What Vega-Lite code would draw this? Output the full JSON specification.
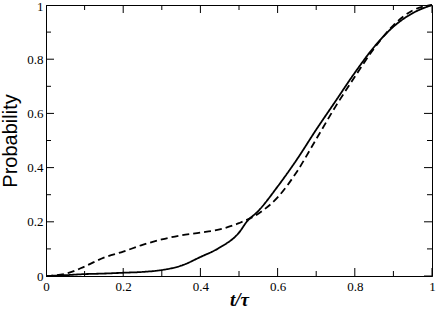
{
  "$schema": "https://vega.github.io/schema/vega-lite/v6.json",
  "width": 386,
  "height": 271,
  "autosize": {"type": "none"},
  "padding": {"left": 46, "top": 5, "right": 4, "bottom": 34},
  "background": "white",
  "config": {"view": {"stroke": "black", "strokeWidth": 1}},
  "datasets": {
    "curves": [
      {"t": 0, "p": 0, "s": "solid"},
      {"t": 0.05, "p": 0.003, "s": "solid"},
      {"t": 0.1, "p": 0.007, "s": "solid"},
      {"t": 0.15, "p": 0.009, "s": "solid"},
      {"t": 0.2, "p": 0.012, "s": "solid"},
      {"t": 0.25, "p": 0.015, "s": "solid"},
      {"t": 0.3, "p": 0.022, "s": "solid"},
      {"t": 0.35, "p": 0.038, "s": "solid"},
      {"t": 0.4, "p": 0.07, "s": "solid"},
      {"t": 0.45, "p": 0.105, "s": "solid"},
      {"t": 0.5, "p": 0.16, "s": "solid"},
      {"t": 0.52, "p": 0.2, "s": "solid"},
      {"t": 0.55, "p": 0.24, "s": "solid"},
      {"t": 0.6, "p": 0.33, "s": "solid"},
      {"t": 0.65, "p": 0.43, "s": "solid"},
      {"t": 0.7, "p": 0.54, "s": "solid"},
      {"t": 0.75, "p": 0.645, "s": "solid"},
      {"t": 0.8, "p": 0.75, "s": "solid"},
      {"t": 0.85, "p": 0.845, "s": "solid"},
      {"t": 0.9, "p": 0.92, "s": "solid"},
      {"t": 0.95, "p": 0.97, "s": "solid"},
      {"t": 1.0, "p": 1.0, "s": "solid"},
      {"t": 0, "p": 0, "s": "dashed"},
      {"t": 0.05, "p": 0.008, "s": "dashed"},
      {"t": 0.1, "p": 0.035, "s": "dashed"},
      {"t": 0.15, "p": 0.068, "s": "dashed"},
      {"t": 0.2, "p": 0.09, "s": "dashed"},
      {"t": 0.25, "p": 0.115, "s": "dashed"},
      {"t": 0.3, "p": 0.135, "s": "dashed"},
      {"t": 0.35, "p": 0.15, "s": "dashed"},
      {"t": 0.4, "p": 0.16, "s": "dashed"},
      {"t": 0.45, "p": 0.172, "s": "dashed"},
      {"t": 0.5, "p": 0.195, "s": "dashed"},
      {"t": 0.55, "p": 0.23, "s": "dashed"},
      {"t": 0.6, "p": 0.29, "s": "dashed"},
      {"t": 0.65, "p": 0.385, "s": "dashed"},
      {"t": 0.7, "p": 0.505, "s": "dashed"},
      {"t": 0.75, "p": 0.625, "s": "dashed"},
      {"t": 0.8, "p": 0.735, "s": "dashed"},
      {"t": 0.85, "p": 0.84, "s": "dashed"},
      {"t": 0.9, "p": 0.925, "s": "dashed"},
      {"t": 0.95, "p": 0.98, "s": "dashed"},
      {"t": 1.0, "p": 1.0, "s": "dashed"}
    ],
    "ticks": [
      {"v": 0, "k": "major"}, {"v": 0.2, "k": "major"}, {"v": 0.4, "k": "major"},
      {"v": 0.6, "k": "major"}, {"v": 0.8, "k": "major"}, {"v": 1, "k": "major"},
      {"v": 0.1, "k": "minor"}, {"v": 0.3, "k": "minor"}, {"v": 0.5, "k": "minor"},
      {"v": 0.7, "k": "minor"}, {"v": 0.9, "k": "minor"}
    ]
  },
  "layer": [
    {
      "data": {"name": "curves"},
      "mark": {"type": "line", "strokeWidth": 1.8, "color": "black", "interpolate": "monotone"},
      "encoding": {
        "x": {
          "field": "t", "type": "quantitative",
          "scale": {"domain": [0, 1], "nice": false, "zero": false},
          "axis": {
            "values": [0, 0.2, 0.4, 0.6, 0.8, 1], "format": "~g", "ticks": false, "grid": false,
            "domainColor": "black", "labelFont": "Liberation Serif, Times New Roman, serif", "labelFontSize": 13,
            "labelColor": "black", "labelPadding": 4, "labelFlush": false, "labelOverlap": false,
            "title": "t/τ", "titleFont": "Liberation Serif, Times New Roman, serif", "titleFontSize": 19,
            "titleFontWeight": "bold", "titleFontStyle": "italic", "titleColor": "black",
            "titleBaseline": "alphabetic", "titleY": 29
          }
        },
        "y": {
          "field": "p", "type": "quantitative",
          "scale": {"domain": [0, 1], "nice": false},
          "axis": {
            "values": [0, 0.2, 0.4, 0.6, 0.8, 1], "format": "~g", "ticks": false, "grid": false,
            "domainColor": "black", "labelFont": "Liberation Serif, Times New Roman, serif", "labelFontSize": 13,
            "labelColor": "black", "labelPadding": 3, "labelFlush": false, "labelOverlap": false,
            "labelOffset": {"condition": {"test": "datum.value == 1", "value": 1.5}, "value": 0},
            "title": "Probability", "titleFont": "Liberation Sans, Arial, sans-serif", "titleFontSize": 20,
            "titleFontWeight": "normal", "titleColor": "black",
            "titleBaseline": "alphabetic", "titleX": -30
          }
        },
        "strokeDash": {
          "field": "s", "type": "nominal",
          "scale": {"domain": ["solid", "dashed"], "range": [[1, 0], [7, 4]]},
          "legend": null
        }
      }
    },
    {
      "data": {"name": "ticks"},
      "mark": {"type": "tick", "orient": "vertical", "clip": true, "color": "black", "thickness": 1, "opacity": 1},
      "encoding": {
        "x": {"field": "v", "type": "quantitative"},
        "y": {"datum": 0, "type": "quantitative"},
        "size": {"field": "k", "type": "nominal", "scale": {"domain": ["major", "minor"], "range": [16, 10]}, "legend": null}
      }
    },
    {
      "data": {"name": "ticks"},
      "mark": {"type": "tick", "orient": "vertical", "clip": true, "color": "black", "thickness": 1, "opacity": 1},
      "encoding": {
        "x": {"field": "v", "type": "quantitative"},
        "y": {"datum": 1, "type": "quantitative"},
        "size": {"field": "k", "type": "nominal", "scale": {"domain": ["major", "minor"], "range": [16, 10]}, "legend": null}
      }
    },
    {
      "data": {"name": "ticks"},
      "mark": {"type": "tick", "orient": "horizontal", "clip": true, "color": "black", "thickness": 1, "opacity": 1},
      "encoding": {
        "y": {"field": "v", "type": "quantitative"},
        "x": {"datum": 0, "type": "quantitative"},
        "size": {"field": "k", "type": "nominal", "scale": {"domain": ["major", "minor"], "range": [16, 10]}, "legend": null}
      }
    },
    {
      "data": {"name": "ticks"},
      "mark": {"type": "tick", "orient": "horizontal", "clip": true, "color": "black", "thickness": 1, "opacity": 1},
      "encoding": {
        "y": {"field": "v", "type": "quantitative"},
        "x": {"datum": 1, "type": "quantitative"},
        "size": {"field": "k", "type": "nominal", "scale": {"domain": ["major", "minor"], "range": [16, 10]}, "legend": null}
      }
    }
  ]
}
